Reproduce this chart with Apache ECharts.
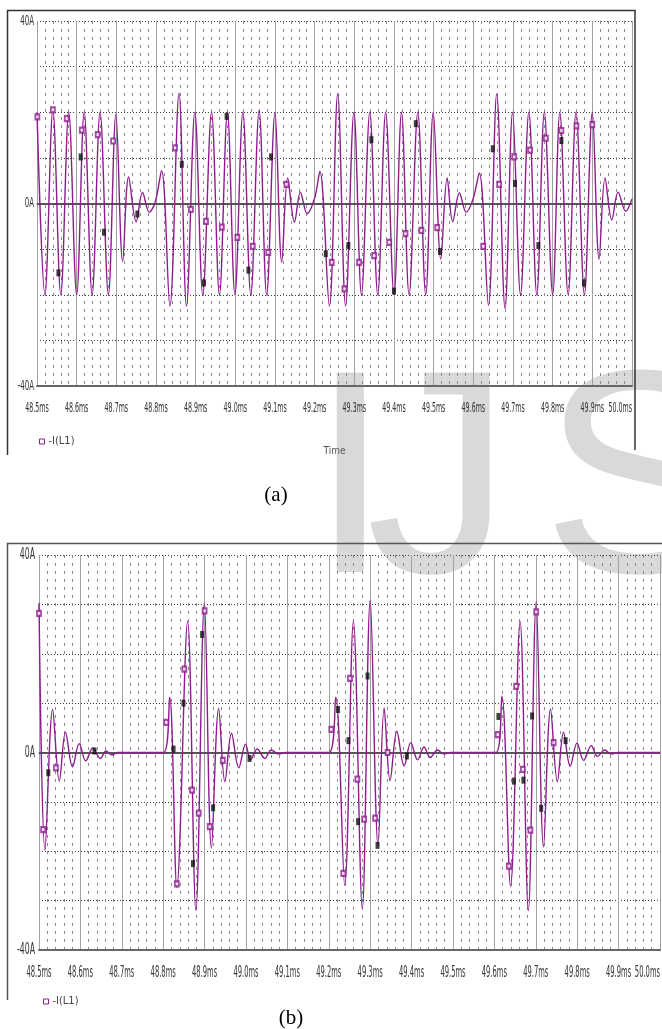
<!DOCTYPE html>
<html>
<head>
<meta charset="utf-8">
<script src="https://cdn.jsdelivr.net/npm/echarts@6/dist/echarts.min.js"></script>
<style>
  * { margin: 0; padding: 0; }
  body { background: #fff; }
  #chart { width: 662px; height: 1029px; }
</style>
</head>
<body>
<div id="chart"></div>
<script>
// tick labels
var xTickValues = [48.5, 48.6, 48.7, 48.8, 48.9, 49.0, 49.1, 49.2, 49.3, 49.4, 49.5, 49.6, 49.7, 49.8, 49.9, 50.0];
var xTicks = ['48.5ms', '48.6ms', '48.7ms', '48.8ms', '48.9ms', '49.0ms', '49.1ms', '49.2ms',
              '49.3ms', '49.4ms', '49.5ms', '49.6ms', '49.7ms', '49.8ms', '49.9ms', '50.0ms'];
var yTickValues = [40, 0, -40];
var yTicks = ['40A', '0A', '-40A'];

// (a) -I(L1): turning points [ms, A]
var curveA = [
  [48.500, 20], [48.520, -20], [48.540, 20.5], [48.560, -20], [48.580, 20], [48.600, -20],
  [48.619, 20], [48.639, -20], [48.659, 20], [48.680, -20], [48.699, 19.5], [48.716, -12.7],
  [48.731, 5.8], [48.750, -4], [48.766, 2.4], [48.783, -1.9], [48.798, 0.3], [48.814, 7.2],
  [48.835, -22.5], [48.858, 24.2], [48.877, -22.5], [48.898, 20], [48.918, -20], [48.940, 20],
  [48.960, -20], [48.980, 20], [48.999, -20], [49.019, 20], [49.039, -20], [49.060, 20.4],
  [49.079, -20], [49.100, 19.9], [49.117, -12.9], [49.132, 5.6], [49.149, -4.1], [49.164, 2.5],
  [49.181, -2.2], [49.200, 1.2], [49.213, 7], [49.237, -22.5], [49.258, 24], [49.278, -22.5],
  [49.299, 20], [49.318, -20], [49.339, 20], [49.359, -20], [49.379, 20], [49.400, -20],
  [49.419, 20], [49.438, -20], [49.460, 20], [49.480, -20], [49.499, 20], [49.518, -12.2],
  [49.534, 5.6], [49.548, -4], [49.565, 2.3], [49.582, -1.9], [49.599, 0.9], [49.615, 6.7],
  [49.638, -22.3], [49.659, 24], [49.680, -23], [49.699, 20], [49.719, -20], [49.740, 20],
  [49.760, -20], [49.779, 20], [49.800, -20], [49.818, 20], [49.839, -20], [49.859, 20],
  [49.880, -20], [49.900, 20], [49.917, -12.2], [49.932, 5.6], [49.949, -3.6], [49.965, 2.5],
  [49.984, -1.7], [50.000, 1]
];
// (a) trace symbols (hollow squares)
var symbolsA = [
  [48.501, 19], [48.540, 20.5], [48.575, 18.6], [48.613, 16.1], [48.653, 15.1], [48.692, 13.7],
  [48.848, 12.2], [48.888, -1.3], [48.926, -3.9], [48.966, -5.2], [49.005, -7.4], [49.044, -9.4],
  [49.083, -10.7], [49.129, 4.2], [49.243, -12.9], [49.275, -18.7], [49.312, -12.9], [49.350, -11.4],
  [49.388, -8.5], [49.429, -6.6], [49.469, -5.9], [49.509, -5.3], [49.625, -9.4], [49.665, 4.2],
  [49.703, 10.2], [49.743, 11.7], [49.783, 14.3], [49.822, 16], [49.860, 17], [49.900, 17.3]
];
// (a) black marks
var marksA = [
  [48.554, -15.2], [48.610, 10.2], [48.669, -6.3], [48.753, -2.3], [48.865, 8.6], [48.921, -17.4],
  [48.978, 19.1], [49.033, -14.6], [49.090, 10.2], [49.228, -11], [49.285, -9.2], [49.343, 14],
  [49.400, -19.2], [49.455, 17.5], [49.516, -10.5], [49.649, 12], [49.705, 4.4], [49.764, -9.2],
  [49.822, 13.8], [49.879, -17.4]
];

// (b) -I(L1)
var curveB = [
  [48.500, 30.3], [48.5145, -19.8], [48.533, 8.7], [48.549, -5.8], [48.564, 4.1], [48.581, -2.9],
  [48.597, 1.8], [48.613, -1.7], [48.630, 0.9], [48.648, -1.2], [48.662, 0.3], [48.676, -0.5],
  [48.690, 0], [48.801, 0], [48.8155, 11.2], [48.833, -27.3], [48.859, 26.6], [48.879, -32],
  [48.8995, 30.3], [48.9165, -19.4], [48.934, 8.9], [48.949, -5.9], [48.965, 3.9], [48.9825, -3.1],
  [48.999, 1.7], [49.011, -1.5], [49.027, 0.7], [49.0455, -1.2], [49.061, 0.5], [49.079, -0.3],
  [49.0955, 0], [49.2005, 0], [49.2167, 11.2], [49.2385, -26.9], [49.2595, 26.6], [49.281, -31.6],
  [49.300, 30.9], [49.319, -18.8], [49.3337, 9], [49.348, -5.7], [49.3644, 4.3], [49.382, -2.7],
  [49.398, 2], [49.4145, -1.5], [49.430, 1.1], [49.445, -1], [49.463, 0.5], [49.4775, -0.3],
  [49.495, 0], [49.604, 0], [49.618, 11.4], [49.639, -27.1], [49.662, 26.6], [49.682, -32],
  [49.701, 30.5], [49.7187, -19.1], [49.7356, 8.8], [49.752, -5.9], [49.767, 4.1], [49.783, -2.8],
  [49.7995, 1.9], [49.8155, -1.6], [49.834, 1.4], [49.8487, -0.8], [49.8664, 0.5], [49.8826, -0.3],
  [49.899, 0], [50.000, 0]
];
var symbolsB = [
  [48.500, 28.2], [48.510, -15.6], [48.541, -3.1], [48.8075, 6.1], [48.833, -26.6], [48.851, 16.9],
  [48.8697, -7.6], [48.8857, -12.3], [48.900, 28.7], [48.9124, -15], [48.944, -1.6], [49.206, 4.7],
  [49.235, -24.5], [49.2513, 15], [49.269, -5.4], [49.2853, -13.5], [49.312, -13.3], [49.342, 0],
  [49.608, 3.6], [49.6349, -23], [49.6526, 13.4], [49.6688, -3.4], [49.687, -15.7], [49.701, 28.5],
  [49.743, 2]
];
var marksB = [
  [48.5225, -4.1], [48.634, 0.3], [48.825, 0.7], [48.849, 10], [48.872, -22.5], [48.894, 23.9],
  [48.9205, -11.2], [49.0085, -1.2], [49.2223, 8.7], [49.2475, 2.4], [49.2707, -14], [49.2935, 15.5],
  [49.3177, -18.8], [49.3886, -0.7], [49.6097, 7.3], [49.647, -5.8], [49.670, -5.6], [49.691, 7.4],
  [49.713, -11.3], [49.772, 2.4]
];

var traceColor = '#8e1c8e';
var labelFont = '"Liberation Sans Narrow", "DejaVu Sans Condensed", sans-serif';
var labelColor = '#333';

//底部时间轴（刻度文字另画，PSpice 字体很窄）
function timeAxis(gridIndex, withName) {
    return {
        gridIndex: gridIndex,
        type: 'value',
        min: 48.5,
        max: 50.0,
        interval: 0.1,
        axisLine: { show: true, onZero: false, lineStyle: { color: '#666', width: 2 } },
        axisTick: { show: false },
        minorTick: { show: false, splitNumber: 5 },
        minorSplitLine: { show: true, lineStyle: { color: '#8a8a8a', width: 1, type: [3, 5] } },
        splitLine: { show: true, lineStyle: { color: '#a0a0a0', width: 1 } },
        axisLabel: { show: false },
        name: withName ? 'Time' : '',
        nameLocation: 'middle',
        nameGap: 60,
        nameTextStyle: { fontSize: 10, fontFamily: labelFont, color: '#555' }
    };
}
//顶部边线
function topAxis(gridIndex) {
    return {
        gridIndex: gridIndex,
        type: 'value',
        position: 'top',
        min: 48.5,
        max: 50.0,
        axisLine: { show: true, lineStyle: { color: '#777', width: 1.5 } },
        axisTick: { show: false },
        axisLabel: { show: false },
        splitLine: { show: false }
    };
}
function ampAxis(gridIndex) {
    return {
        gridIndex: gridIndex,
        type: 'value',
        min: -40,
        max: 40,
        interval: 10,
        axisLine: { show: false },
        axisTick: { show: false },
        splitLine: { show: true, lineStyle: { color: '#3c3c3c', width: 1, type: [1, 2] } },
        axisLabel: { show: false }
    };
}

function traceSeries(axisIdx, gridIdx, data) {
    return {
        name: '-I(L1)',
        type: 'line',
        xAxisIndex: axisIdx,
        yAxisIndex: gridIdx,
        data: data,
        smooth: 0.36,
        symbol: 'none',
        lineStyle: { color: traceColor, width: 1.4 },
        itemStyle: { color: traceColor },
        z: 3,
        markLine: {
            silent: true,
            z: 1,
            symbol: ['none', 'none'],
            label: { show: false },
            lineStyle: { color: '#555', width: 2, type: 'solid' },
            data: [{ yAxis: 0 }]
        }
    };
}
function symbolSeries(axisIdx, gridIdx, data) {
    return {
        name: '-I(L1)',
        type: 'scatter',
        xAxisIndex: axisIdx,
        yAxisIndex: gridIdx,
        data: data,
        symbol: 'emptyRect',
        symbolSize: [4, 5],
        itemStyle: { color: traceColor, borderColor: traceColor, borderWidth: 1.2 },
        z: 4
    };
}
function markSeries(axisIdx, gridIdx, data) {
    return {
        name: 'marks',
        type: 'scatter',
        xAxisIndex: axisIdx,
        yAxisIndex: gridIdx,
        data: data,
        symbol: 'rect',
        symbolSize: [4, 7],
        itemStyle: { color: '#111' },
        z: 5
    };
}

function legendAt(left, top) {
    return {
        left: left,
        top: top,
        itemWidth: 5,
        itemHeight: 5,
        itemGap: 4,
        selectedMode: false,
        data: [{ name: '-I(L1)', icon: 'rect', itemStyle: { color: '#fff', borderColor: traceColor, borderWidth: 1 } }],
        textStyle: { fontSize: 11, fontFamily: labelFont, color: '#444', padding: [0, 0, 0, -1] }
    };
}

var watermarkFont = '290px "Liberation Sans", Arial, sans-serif';
var baseGraphic = [
    // 水印
    { type: 'text', z: -10, silent: true, style: { x: 310, y: 492, text: 'I', font: watermarkFont, fill: '#d9d9d9', verticalAlign: 'middle' } },
    { type: 'text', z: -10, silent: true, style: { x: 366, y: 492, text: 'J', font: watermarkFont, fill: '#d9d9d9', verticalAlign: 'middle' } },
    { type: 'text', z: -10, silent: true, style: { x: 542, y: 492, text: 'S', font: watermarkFont, fill: '#d9d9d9', verticalAlign: 'middle' } },
    // 边框
    { type: 'polyline', z: 10, silent: true, shape: { points: [[635, 450], [635, 10.5], [7.5, 10.5], [7.5, 455]] }, style: { stroke: '#333', lineWidth: 1.5, fill: null } },
    { type: 'polyline', z: 10, silent: true, shape: { points: [[662, 543.5], [7.5, 543.5], [7.5, 1000]] }, style: { stroke: '#555', lineWidth: 1.5, fill: null } },
    // 标题
    { type: 'text', silent: true, style: { x: 276, y: 495, text: '(a)', font: '21px "Liberation Serif", serif', fill: '#000', align: 'center', verticalAlign: 'middle' } },
    { type: 'text', silent: true, style: { x: 291, y: 1018, text: '(b)', font: '21px "Liberation Serif", serif', fill: '#000', align: 'center', verticalAlign: 'middle' } }
];

var chart = echarts.init(document.getElementById('chart'));
var option = {
    backgroundColor: '#fff',
    animation: false,
    grid: [
        { left: 37, top: 21, width: 595, height: 365 },
        { left: 39, top: 555, width: 621, height: 395 }
    ],
    xAxis: [timeAxis(0, true), topAxis(0), timeAxis(1, false), topAxis(1)],
    yAxis: [ampAxis(0), ampAxis(1)],
    legend: [legendAt(34, 431), legendAt(38, 991)],
    series: [
        traceSeries(0, 0, curveA),
        symbolSeries(0, 0, symbolsA),
        markSeries(0, 0, marksA),
        traceSeries(2, 1, curveB),
        symbolSeries(2, 1, symbolsB),
        markSeries(2, 1, marksB)
    ],
    graphic: baseGraphic
};
chart.setOption(option);

//刻度文字：按坐标轴换算位置，横向压窄
function tickLabels(xIdx, yIdx, opt) {
    var els = [];
    var font = opt.size + 'px ' + labelFont;
    for (var i = 0; i < xTickValues.length; i++) {
        var px = chart.convertToPixel({ xAxisIndex: xIdx }, xTickValues[i]);
        var last = i === xTickValues.length - 1;
        els.push({
            type: 'text', silent: true, x: px, y: opt.xLabelY, scaleX: opt.scaleX,
            style: { x: 0, y: 0, text: xTicks[i], font: font, fill: labelColor,
                     align: last ? 'right' : 'center', verticalAlign: 'middle' }
        });
    }
    for (var j = 0; j < yTickValues.length; j++) {
        var py = chart.convertToPixel({ yAxisIndex: yIdx }, yTickValues[j]);
        els.push({
            type: 'text', silent: true, x: opt.yLabelX, y: py, scaleX: opt.yScaleX,
            style: { x: 0, y: 0, text: yTicks[j], font: font, fill: labelColor,
                     align: 'right', verticalAlign: 'middle' }
        });
    }
    return els;
}

chart.setOption({
    graphic: baseGraphic
        .concat(tickLabels(0, 0, { size: 14, scaleX: 0.5, yScaleX: 0.56, xLabelY: 408, yLabelX: 34 }))
        .concat(tickLabels(2, 1, { size: 16, scaleX: 0.47, yScaleX: 0.54, xLabelY: 973, yLabelX: 35 }))
});
</script>
</body>
</html>
